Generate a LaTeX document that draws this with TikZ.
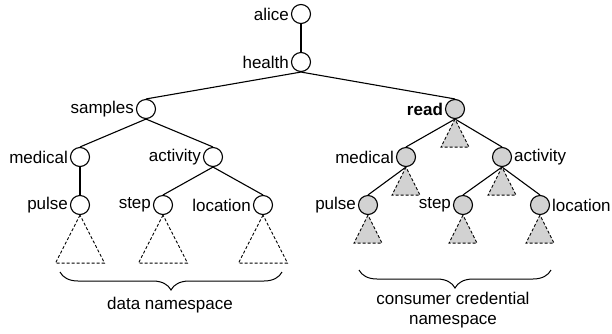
\documentclass[tikz,border=0pt]{standalone}
\usepackage{fontspec}
\setmainfont{Liberation Sans}
\usetikzlibrary{decorations.pathreplacing}

\begin{document}
\begin{tikzpicture}[
            x=1pt, y=-1pt, % pixel coordinates
            line width=1.1pt,
            every node/.style={font=\fontsize{17}{20}\selectfont},
            key/.style={draw, circle, minimum size=19pt, inner sep=0pt},
            cred/.style={key, fill=gray!35},
            every label/.style={inner sep=1.5pt, font=\fontsize{17}{20}\selectfont},
            label distance=0pt,
            subtree/.style={draw, dash pattern=on 3pt off 2pt, line width=0.9pt},
            ns/.style={decorate, decoration={brace, mirror, amplitude=18pt}, line width=1pt}
        ]
            \useasboundingbox (0,0) rectangle (612,333);

            % data namespace
            \node[key, label=left:alice] (alice) at (301,14) {};
            \node[key, label=left:health] (health) at (301,62) {};
            \node[key, label=left:samples] (samples) at (146,109) {};
            \node[key, label=left:medical] (lmed) at (80,157) {};
            \node[key, label=left:activity] (lact) at (213,157) {};
            \node[key, label=left:pulse] (lpulse) at (80,205) {};
            \node[key, label=left:step] (lstep) at (163,205) {};
            \node[key, label=left:location] (lloc) at (263,205) {};

            % consumer credential namespace
            \node[cred, label=left:\textbf{read}] (read) at (455,109) {};
            \node[cred, label=left:medical] (rmed) at (406,157) {};
            \node[cred, label=right:activity] (ract) at (502,157) {};
            \node[cred, label=left:pulse] (rpulse) at (368,205) {};
            \node[cred, label=left:step] (rstep) at (463,205) {};
            \node[cred, label=right:location] (rloc) at (540,205) {};

            \draw (alice) -- (health);
            \draw (health.south) -- (samples.north);
            \draw (health.south) -- (read.north);
            \draw (samples.south) -- (lmed.north);
            \draw (samples.south) -- (lact.north);
            \draw (lmed) -- (lpulse);
            \draw (lact.south) -- (lstep.north);
            \draw (lact.south) -- (lloc.north);
            \draw (read.south) -- (rmed.north);
            \draw (read.south) -- (ract.north);
            \draw (rmed.south) -- (rpulse.north);
            \draw (ract.south) -- (rstep.north);
            \draw (ract.south) -- (rloc.north);

            \foreach \n in {lpulse, lstep, lloc}
                \draw[subtree] (\n.south) -- ++(-24.5,48) -- ++(49,0) -- cycle;
            \foreach \n in {read, rmed, ract, rpulse, rstep, rloc}
                \draw[subtree, fill=gray!35] (\n.south) -- ++(-14,28) -- ++(28,0) -- cycle;

            % braces
            \coordinate (lbl) at (60,272);
            \coordinate (lbr) at (282,272);
            \coordinate (rbl) at (359,270);
            \coordinate (rbr) at (551,270);
            \draw[ns] (lbl) -- (lbr);
            \draw[ns] (rbl) -- (rbr);
            \node (dataname) at (170,305) {data namespace};
            \node[align=center] (credname) at (453,310) {consumer credential\\namespace};
        \end{tikzpicture}
\end{document}
